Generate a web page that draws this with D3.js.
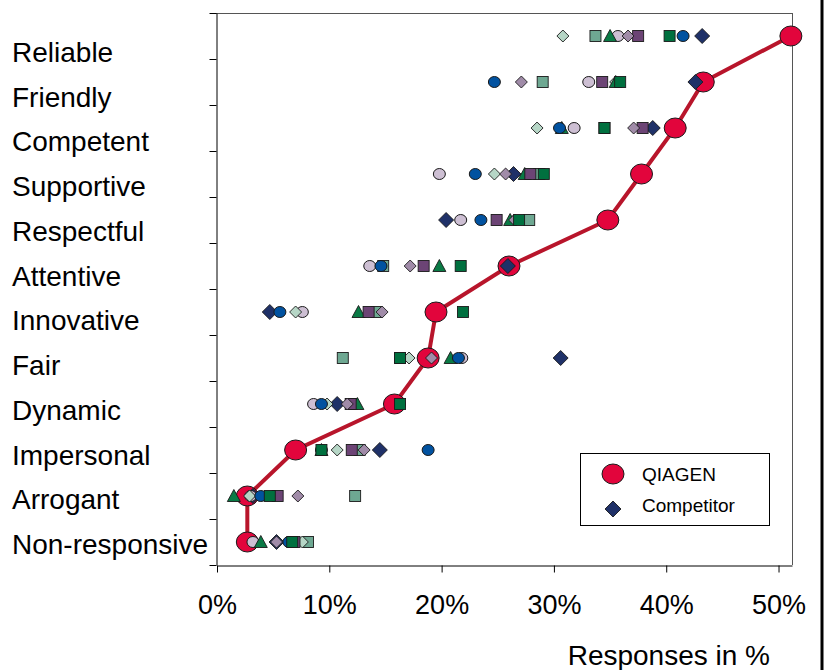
<!DOCTYPE html>
<html><head><meta charset="utf-8">
<script src="https://cdn.jsdelivr.net/npm/d3@7"></script>
<style>body{margin:0;background:#fff;} text{font-family:"Liberation Sans",Arial,sans-serif;}</style>
</head><body>
<svg id="c" width="829" height="670"></svg>
<script>
const categories = ["Reliable","Friendly","Competent","Supportive","Respectful","Attentive","Innovative","Fair","Dynamic","Impersonal","Arrogant","Non-responsive"];
const xTicks = [0,10,20,30,40,50];
const qiagen        = [51.1,43.3,40.8,37.8,34.8,26.0,19.5,18.8,15.8,7.0,2.7,2.7];
const competitor    = [43.2,42.6,38.8,26.4,20.4,25.9,4.7,30.6,10.7,14.5,3.2,5.3];
const blueCircle    = [41.5,24.7,30.5,23.0,23.5,14.6,5.6,21.5,9.3,18.8,3.9,6.4];
const greenSquare   = [40.3,35.9,34.5,29.1,26.9,21.7,21.9,16.3,16.3,9.3,4.7,6.7];
const greenTriangle = [35.0,35.5,30.7,27.4,26.1,19.8,12.6,20.8,12.5,9.3,1.5,3.9];
const purpleSquare  = [37.5,34.3,37.9,27.9,24.9,18.4,13.5,16.3,11.9,12.0,5.4,6.9];
const mauveDiamond  = [36.6,27.1,37.1,25.7,26.5,17.2,14.7,19.1,11.6,13.1,7.2,5.3];
const lightCircle   = [35.7,33.1,31.8,19.8,21.7,13.6,7.6,21.8,8.6,9.3,3.0,3.2];
const lightDiamond  = [30.8,35.5,28.5,24.7,26.5,14.6,7.0,17.1,9.8,10.7,2.9,7.6];
const tealSquare    = [33.7,29.0,34.5,28.7,27.8,14.8,14.2,11.2,12.0,12.7,12.3,8.1];

const svg = d3.select("#c");
const x = d3.scaleLinear().domain([0,51.2]).range([217,792]);
const y = d3.scaleBand().domain(categories).range([13,565]);
const yc = d => y(d) + y.bandwidth()/2;
const yTickScale = d3.scaleLinear().domain([0,categories.length]).range([565,13]);
const labelY = d3.scalePoint().domain(categories).range([62,554]);

// frame lines (top & right of plot)
svg.append("line").attr("x1",216).attr("x2",792).attr("y1",13.5).attr("y2",13.5).attr("stroke","#555").attr("stroke-width",1);
svg.append("line").attr("x1",792.5).attr("x2",792.5).attr("y1",13).attr("y2",565).attr("stroke","#555").attr("stroke-width",1);
// outer right border
svg.append("line").attr("x1",822).attr("x2",822).attr("y1",0).attr("y2",670).attr("stroke","#000").attr("stroke-width",3);

// left axis (ticks at band boundaries)
const gl = svg.append("g").attr("transform","translate(216.5,0)")
  .call(d3.axisLeft(yTickScale).tickValues(d3.range(0,13)).tickFormat("").tickSize(7).tickSizeOuter(0));
gl.selectAll("path,line").attr("stroke","#000");

// bottom axis
const gb = svg.append("g").attr("transform","translate(0,565.5)")
  .call(d3.axisBottom(x).tickValues(xTicks).tickFormat(d=>d+"%").tickSize(7).tickSizeOuter(0).tickPadding(22));
gb.selectAll("path,line").attr("stroke","#000");
gb.selectAll("text").attr("font-size",27).attr("fill","#000").attr("font-family","Liberation Sans, Arial, sans-serif");

// category labels
svg.append("g").selectAll("text").data(categories).join("text")
  .attr("x",12).attr("y",d=>labelY(d)).attr("font-size",28).attr("fill","#000").text(d=>d);

// axis title
svg.append("text").attr("x",770).attr("y",665).attr("text-anchor","end").attr("font-size",28).attr("fill","#000").text("Responses in %");

// QIAGEN line
const line = d3.line().x(d=>x(d.v)).y(d=>yc(d.c));
const qData = categories.map((c,i)=>({c,v:qiagen[i]}));
svg.append("path").datum(qData).attr("d",line).attr("fill","none").attr("stroke","#b8152b").attr("stroke-width",4);

const stroke = "#1a1a1a";
function drawSeries(vals, shape, fill, size){
  const data = categories.map((c,i)=>({c,v:vals[i]}));
  const g = svg.append("g");
  data.forEach(d=>{
    const cx = x(d.v), cy = yc(d.c);
    if(shape==="ellipse"){
      g.append("ellipse").attr("cx",cx).attr("cy",cy).attr("rx",size[0]).attr("ry",size[1])
        .attr("fill",fill).attr("stroke",stroke).attr("stroke-width",1);
    } else if(shape==="square"){
      g.append("rect").attr("x",cx-size/2).attr("y",cy-size/2).attr("width",size).attr("height",size)
        .attr("fill",fill).attr("stroke",stroke).attr("stroke-width",0.9);
    } else if(shape==="diamond"){
      const h=size/2;
      g.append("path").attr("d",`M${cx},${cy-h}L${cx+h},${cy}L${cx},${cy+h}L${cx-h},${cy}Z`)
        .attr("fill",fill).attr("stroke",stroke).attr("stroke-width",0.9);
    } else if(shape==="triangle"){
      const w=size[0]/2, hh=size[1];
      g.append("path").attr("d",`M${cx},${cy-hh/2-1}L${cx+w},${cy+hh/2}L${cx-w},${cy+hh/2}Z`)
        .attr("fill",fill).attr("stroke",stroke).attr("stroke-width",0.9);
    }
  });
}

drawSeries(qiagen,"ellipse","#e2053c",[11,10]);
drawSeries(competitor,"diamond","#1f3168",15);
drawSeries(tealSquare,"square","#6ea892",11);
drawSeries(lightCircle,"ellipse","#cdbfd3",[6,5.5]);
drawSeries(lightDiamond,"diamond","#b6d6c6",12);
drawSeries(greenTriangle,"triangle","#0a7a45",[13,11]);
drawSeries(purpleSquare,"square","#6c4475",11);
drawSeries(mauveDiamond,"diamond","#a08ba8",12);
drawSeries(blueCircle,"ellipse","#0152a0",[6,5.5]);
drawSeries(greenSquare,"square","#00703f",11);

// legend
const lg = svg.append("g");
lg.append("rect").attr("x",580.5).attr("y",453.5).attr("width",189).attr("height",72).attr("fill","#fff").attr("stroke","#000").attr("stroke-width",1);
lg.append("ellipse").attr("cx",613).attr("cy",474).attr("rx",11).attr("ry",10).attr("fill","#e2053c").attr("stroke",stroke);
lg.append("path").attr("d","M613,501L621,509L613,517L605,509Z").attr("fill","#1f3168").attr("stroke",stroke).attr("stroke-width",0.9);
lg.append("text").attr("x",642).attr("y",481).attr("font-size",19).attr("fill","#000").text("QIAGEN");
lg.append("text").attr("x",642).attr("y",512).attr("font-size",19).attr("fill","#000").text("Competitor");
</script>
</body></html>
